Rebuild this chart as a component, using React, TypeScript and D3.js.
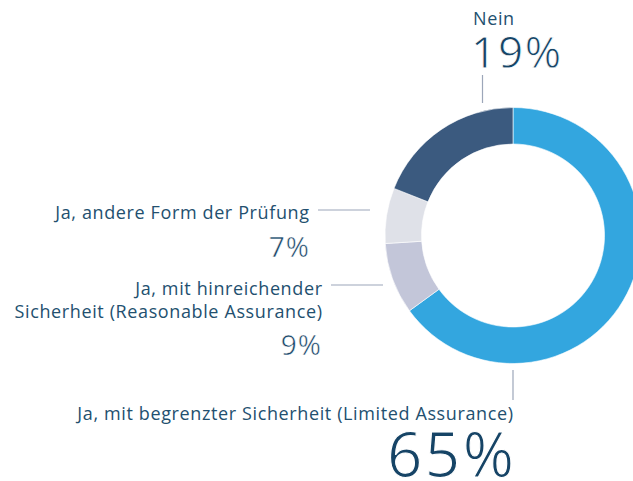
import React from "react";
import * as d3 from "d3";

const categories = [
  "Ja, mit begrenzter Sicherheit (Limited Assurance)",
  "Ja, mit hinreichender Sicherheit (Reasonable Assurance)",
  "Ja, andere Form der Prüfung",
  "Nein",
];
const values = [65, 9, 7, 19];
const colors = ["url(#blueGrad)", "#c3c6d9", "#dfe1e8", "#3b5a7f"];

const W = 633;
const H = 481;
const cx = 513;
const cy = 235.5;
const rOuter = 128;
const rInner = 91.5;
const textColor = "#23506f";
const pctColor = "#164466";
const lineColor = "#9ca6b9";
const font = "'Open Sans', 'Noto Sans', sans-serif";
const ls = 0.62;

function Pct({ v, x, y, size, anchor }: { v: number; x: number; y: number; size: number; anchor: string }) {
  const sp = size * 0.04;
  return (
    <text
      x={anchor === "end" ? x + sp : x}
      y={y}
      fontSize={size}
      fill={pctColor}
      textAnchor={anchor}
      letterSpacing={sp}
      stroke="#fff"
      strokeWidth={size / 55}
      style={{ paintOrder: "fill" }}
    >
      {`${v}%`}
    </text>
  );
}

export default function App() {
  const pie = d3
    .pie<number>()
    .sort(null)
    .startAngle(0)
    .endAngle(2 * Math.PI)
    .value((d) => d);
  const arcs = pie(values);
  const arc = d3.arc<d3.PieArcDatum<number>>().innerRadius(rInner).outerRadius(rOuter);

  return (
    <svg
      width={W}
      height={H}
      style={{ position: "absolute", left: 0, top: 0, background: "#fff" }}
      fontFamily={font}
    >
      <defs>
        <linearGradient id="blueGrad" x1={cx - rOuter} x2={cx + rOuter} y1={0} y2={0} gradientUnits="userSpaceOnUse">
          <stop offset="0" stopColor="#33a6df" />
          <stop offset="1" stopColor="#47b1e3" />
        </linearGradient>
      </defs>
      <g transform={`translate(${cx},${cy})`}>
        {arcs.map((a, i) => (
          <path key={i} d={arc(a) || ""} fill={colors[i]} stroke="#fff" strokeWidth={0.6} />
        ))}
      </g>

      {/* Leader lines */}
      <line x1={482.5} x2={482.5} y1={75} y2={103} stroke={lineColor} strokeWidth={1.2} />
      <line x1={318} x2={370} y1={210} y2={210} stroke={lineColor} strokeWidth={1.2} />
      <line x1={331} x2={383} y1={285} y2={285} stroke={lineColor} strokeWidth={1.2} />
      <line x1={513} x2={513} y1={370} y2={400} stroke={lineColor} strokeWidth={1.2} />

      <g fontSize={18} fill={textColor} letterSpacing={ls}>
        <text x={473} y={25}>{categories[3]}</text>
        <text x={309 + ls} y={219} textAnchor="end">{categories[2]}</text>
        <text x={322 + ls} y={295} textAnchor="end">Ja, mit hinreichender</text>
        <text x={322 + ls} y={318} textAnchor="end">Sicherheit (Reasonable Assurance)</text>
        <text x={513 + ls} y={420} textAnchor="end">{categories[0]}</text>
      </g>

      <Pct v={values[3]} x={471} y={68} size={44} anchor="start" />
      <Pct v={values[2]} x={309} y={257} size={28} anchor="end" />
      <Pct v={values[1]} x={321} y={355} size={28} anchor="end" />
      <Pct v={values[0]} x={514} y={477} size={62} anchor="end" />
    </svg>
  );
}
